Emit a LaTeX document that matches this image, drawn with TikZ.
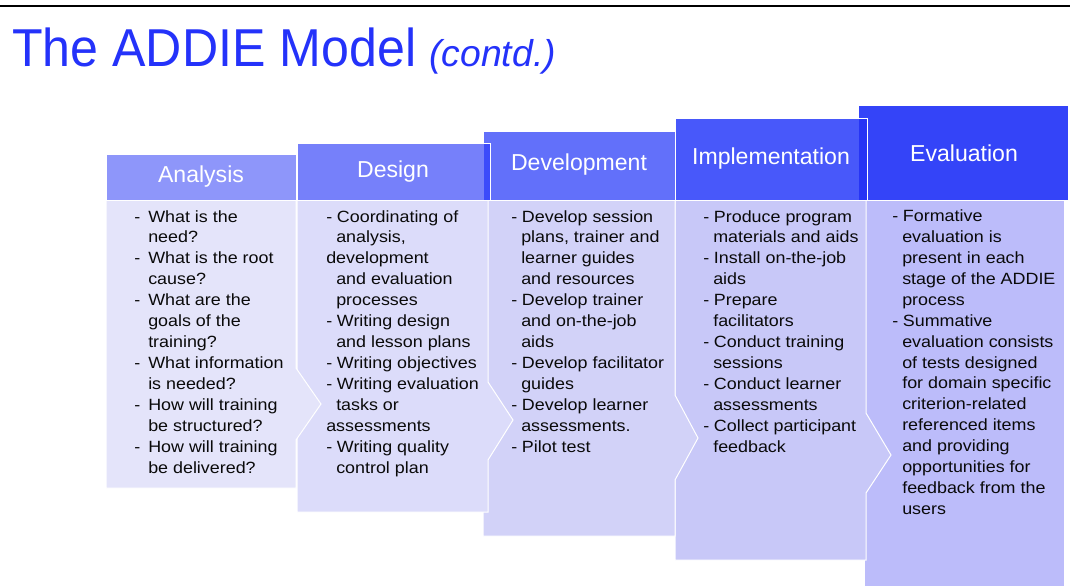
\documentclass[tikz,border=0pt]{standalone}
\usepackage{fontspec}
\setmainfont{Liberation Sans}
\newfontfamily\bodyfont{Liberation Sans}[FakeStretch=1.1]
\newfontfamily\titlefont{Liberation Sans}[FakeStretch=0.94]
\definecolor{titleblue}{RGB}{36,50,250}
\definecolor{hA}{RGB}{142,150,250}
\definecolor{hB}{RGB}{118,128,250}
\definecolor{hC}{RGB}{98,112,250}
\definecolor{hD}{RGB}{72,88,250}
\definecolor{hE}{RGB}{52,68,248}
\definecolor{ovA}{RGB}{60,75,250}
\definecolor{ovB}{RGB}{38,52,245}
\definecolor{bA}{RGB}{228,228,250}
\definecolor{bB}{RGB}{220,220,250}
\definecolor{bC}{RGB}{210,210,248}
\definecolor{bD}{RGB}{200,200,248}
\definecolor{bE}{RGB}{188,188,250}
\definecolor{txt}{RGB}{10,10,10}
\newcommand\da{\makebox[10.5pt][l]{-}}
\newcommand\ca{\hspace*{10.5pt}}
\newcommand\db{\makebox[8pt][l]{-}}
\newcommand\cb{\hspace*{7.5pt}}
\tikzset{
  shapeline/.style={draw=white, line width=0.75pt},
  hlabel/.style={inner sep=0, text=white, font=\fontsize{17.3pt}{20pt}\selectfont},
  btext/.style={anchor=base west, inner sep=0, text=txt},
}
\newcommand\bodybox[1]{\parbox[t]{200pt}{\bodyfont\fontsize{12.2pt}{15.7pt}\selectfont #1}}
\begin{document}
\begin{tikzpicture}[x=0.75pt,y=-0.75pt]
\useasboundingbox (0,0) rectangle (1070,585);
\fill[white] (0,0) rectangle (1070,585);
% top rule
\draw[line width=1.1pt, black] (0,6) -- (1070,6);
% title
\node[anchor=base west, inner sep=0, text=titleblue, font=\titlefont\fontsize{40pt}{44pt}\selectfont] (title) at (12,67) {The ADDIE Model};
\node[anchor=base west, inner sep=0, text=titleblue, font=\fontsize{28pt}{30pt}\selectfont\itshape] (contd) at (429,67) {(contd.)};
% bodies, right to left so each chevron tip lies over the next body
\draw[shapeline, fill=bE] (864,200) -- (1064,200) -- (1064,587) -- (864,587) -- cycle;
\draw[shapeline, fill=bD] (675,200) -- (866,200) -- (866,413) -- (891,455) -- (866,493) -- (866,560) -- (675,560) -- cycle;
\draw[shapeline, fill=bC] (483,200) -- (675,200) -- (675,395) -- (698,438) -- (675,480) -- (675,536) -- (483,536) -- cycle;
\draw[shapeline, fill=bB] (297,200) -- (488,200) -- (488,382) -- (513,420) -- (488,460) -- (488,512) -- (297,512) -- cycle;
\draw[shapeline, fill=bA] (106,200) -- (296,200) -- (296,368) -- (321,404) -- (296,440) -- (296,488) -- (106,488) -- cycle;
% headers
\fill[hE] (859,106) rectangle (1068,200);
\draw[shapeline, fill=hD] (675,118) rectangle (867,200);
\fill[ovB] (859,118.5) rectangle (866.5,199.5);
\draw[shapeline, fill=hC] (483,131) rectangle (675,200);
\draw[shapeline, fill=hB] (297,143) rectangle (490,200);
\fill[ovA] (483.5,143.5) rectangle (489.5,199.5);
\draw[shapeline, fill=hA] (106,154) rectangle (296,200);
\draw[shapeline] (859,200) -- (1068,200);
% header labels
\node[hlabel] (la) at (201,177) {Analysis};
\node[hlabel] (lb) at (393,171.5) {Design};
\node[hlabel] (lc) at (579,165) {Development};
\node[hlabel] (ld) at (771,159) {Implementation};
\node[hlabel] (le) at (964,153) {Evaluation};
% body texts
\node[btext] (ta) at (134,222) {\bodybox{%
\da What is the\\
\ca need?\\
\da What is the root\\
\ca cause?\\
\da What are the\\
\ca goals of the\\
\ca training?\\
\da What information\\
\ca is needed?\\
\da How will training\\
\ca be structured?\\
\da How will training\\
\ca be delivered?}};
\node[btext] (tb) at (326,222) {\bodybox{%
\db Coordinating of\\
\cb analysis,\\
development\\
\cb and evaluation\\
\cb processes\\
\db Writing design\\
\cb and lesson plans\\
\db Writing objectives\\
\db Writing evaluation\\
\cb tasks or\\
assessments\\
\db Writing quality\\
\cb control plan}};
\node[btext] (tc) at (511,222) {\bodybox{%
\db Develop session\\
\cb plans, trainer and\\
\cb learner guides\\
\cb and resources\\
\db Develop trainer\\
\cb and on-the-job\\
\cb aids\\
\db Develop facilitator\\
\cb guides\\
\db Develop learner\\
\cb assessments.\\
\db Pilot test}};
\node[btext] (td) at (703,222) {\bodybox{%
\db Produce program\\
\cb materials and aids\\
\db Install on-the-job\\
\cb aids\\
\db Prepare\\
\cb facilitators\\
\db Conduct training\\
\cb sessions\\
\db Conduct learner\\
\cb assessments\\
\db Collect participant\\
\cb feedback}};
\node[btext] (te) at (892,221.5) {\bodybox{%
\db Formative\\
\cb evaluation is\\
\cb present in each\\
\cb stage of the ADDIE\\
\cb process\\
\db Summative\\
\cb evaluation consists\\
\cb of tests designed\\
\cb for domain specific\\
\cb criterion-related\\
\cb referenced items\\
\cb and providing\\
\cb opportunities for\\
\cb feedback from the\\
\cb users}};
\end{tikzpicture}
\end{document}
